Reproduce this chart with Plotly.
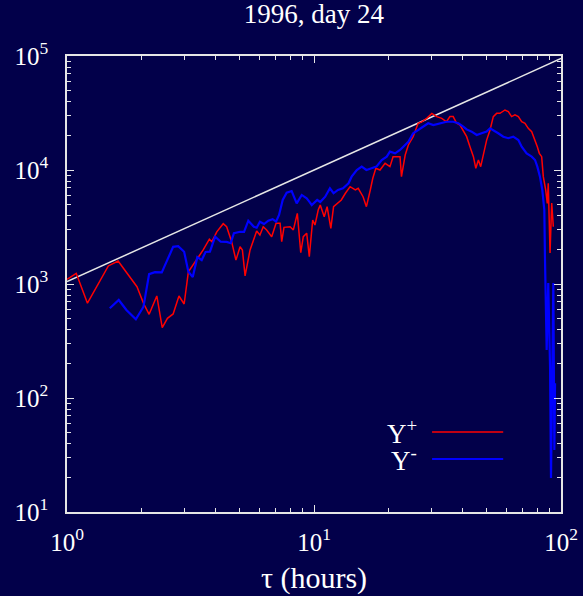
import plotly.graph_objects as go

# ---- data ----
tau_plus = [1.00, 1.09, 1.21, 1.47, 1.61, 1.77, 1.92, 2.04, 2.15, 2.31, 2.43, 2.55, 2.69, 2.84, 2.98,
            3.10, 3.35, 3.56, 3.77, 3.86, 4.04, 4.29, 4.43, 4.64, 4.83, 5.02, 5.13, 5.26, 5.51, 5.86,
            6.04, 6.23, 6.43, 6.74, 7.02, 7.29, 7.40, 7.56, 8.00, 8.25, 8.56, 8.84, 9.05, 9.34, 9.57,
            9.88, 10.09, 10.4, 10.6, 11.0, 11.3, 11.7, 12.0, 12.4, 12.9, 13.4, 14.0, 14.7, 15.1, 15.8,
            16.3, 16.9, 17.3, 17.8, 18.5, 19.4, 20.3, 20.9, 22.3, 22.6, 23.4, 24.1, 25.2, 26.4, 27.3,
            28.6, 30.0, 31.4, 32.9, 34.4, 35.5, 36.6, 37.8, 39.0, 40.2, 41.5, 42.8, 44.2, 45.2, 46.3,
            47.3, 48.5, 50.0, 51.6, 53.2, 54.9, 56.6, 59.3, 61.2, 63.1, 65.1, 67.2, 69.3, 71.5, 73.7,
            76.1, 78.5, 80.2, 81.7, 83.5, 84.8, 86.7, 88.0, 88.8, 90.3, 91.7, 93.1]
y_plus = [1100, 1240, 678, 1440, 1590, 1200, 947, 678, 542, 785, 414, 500, 546, 785, 668,
          1280, 1620, 1990, 2470, 2350, 2870, 3380, 3180, 2350, 1620, 2120, 1990, 1180, 1990, 2920,
          2690, 3180, 2980, 2600, 3410, 3410, 2350, 3140, 3180, 2980, 4170, 1880, 2600, 2790, 1740,
          3640, 3290, 4460, 4930, 3890, 4770, 3080, 4770, 5100, 5460, 6250, 7140, 6680, 6910, 5830,
          4770, 6680, 8460, 10350, 10000, 11450, 10700, 13090, 13090, 8740, 13540, 16570, 19600, 25700, 26400,
          28400, 31400, 29400, 28400, 26500, 29400, 29400, 25700, 24800, 22400, 19600, 16000, 13090, 10350, 12240,
          10700, 14000, 18300, 22400, 29400, 31400, 31400, 33600, 32500, 29400, 30400, 29400, 26500, 25700, 23200,
          21700, 18300, 16000, 14000, 13090, 8740, 6680, 5100, 7640, 1870, 5140, 3180]

tau_minus = [1.49, 1.62, 1.74, 1.90, 2.04, 2.15, 2.27, 2.42, 2.53, 2.69, 2.82, 2.98, 3.10, 3.23, 3.37,
             3.51, 3.64, 3.79, 3.98, 4.19, 4.43, 4.60, 4.74, 5.02, 5.21, 5.42, 5.71, 5.86, 6.04, 6.28,
             6.53, 6.80, 7.02, 7.22, 7.47, 7.75, 8.12, 8.51, 8.92, 9.34, 9.57, 9.79, 10.3, 10.6, 11.1,
             11.6, 12.0, 12.5, 13.1, 13.8, 14.2, 14.9, 15.6, 16.3, 17.1, 17.9, 18.8, 19.7, 20.3, 21.3,
             22.3, 23.4, 24.1, 25.2, 26.4, 27.7, 29.0, 30.4, 32.4, 34.4, 36.6, 38.4, 40.2, 41.5, 43.5,
             45.6, 47.7, 50.0, 51.6, 53.2, 55.7, 58.4, 61.2, 64.1, 67.2, 69.3, 72.6, 76.1, 78.5, 80.2,
             82.2, 84.0, 85.6, 86.1, 87.5, 88.8, 90.3, 91.1, 92.2, 93.1, 94.0, 94.6]
y_minus = [612, 724, 592, 490, 632, 1220, 1270, 1265, 1570, 2120, 2150, 1920, 1280, 1150, 1720,
           1620, 1910, 1920, 2600, 2350, 2340, 2280, 2790, 2870, 2870, 3590, 3180, 3120, 3520, 3360,
           3590, 3700, 3520, 4030, 5460, 6320, 6540, 5100, 6040, 5650, 5270, 4930, 5460, 5240, 5830,
           6910, 6250, 6680, 6910, 7640, 8740, 10000, 10700, 10000, 10350, 10700, 12240, 13090, 14480, 14000,
           14980, 16570, 17700, 21000, 22400, 24000, 25700, 24800, 25700, 26500, 26500, 25700, 24000, 22700, 21700,
           20300, 21000, 21700, 23200, 22400, 21000, 19600, 19000, 19600, 18300, 16000, 14000, 13090, 12240, 10700,
           8740, 6680, 4460, 1740, 264, 1020, 188, 19.9, 135, 1020, 35, 135]

ref_tau = [1, 100]
ref_y = [1050, 95000]

x_tickvals = [1, 10, 100]
x_ticktext = ["10<sup>0</sup>", "10<sup>1</sup>", "10<sup>2</sup>"]
y_tickvals = [10, 100, 1000, 10000, 100000]
y_ticktext = ["10<sup>1</sup>", "10<sup>2</sup>", "10<sup>3</sup>", "10<sup>4</sup>", "10<sup>5</sup>"]
x_minor = [m * d for d in (1, 10) for m in range(2, 10)]
y_minor = [m * d for d in (10, 100, 1000, 10000) for m in range(2, 10)]

BG = "#02004a"
FG = "#e6e6e6"
FONT = "Liberation Serif"

fig = go.Figure()
fig.add_trace(go.Scatter(x=ref_tau, y=ref_y, mode="lines", line=dict(color=FG, width=1.5),
                         showlegend=False, hoverinfo="skip"))
fig.add_trace(go.Scatter(x=tau_plus, y=y_plus, mode="lines", line=dict(color="#ff0000", width=1.5),
                         name="Y+", showlegend=False))
fig.add_trace(go.Scatter(x=tau_minus, y=y_minus, mode="lines", line=dict(color="#0000ff", width=2.2),
                         name="Y-", showlegend=False))

# legend (text on the left, line sample on the right)
for label, col, yp in [("Y<sup>+</sup>", "#ff0000", 0.1754), ("Y<sup>-</sup>", "#0000ff", 0.1162)]:
    fig.add_annotation(xref="paper", yref="paper", x=0.712, y=yp, text=label, showarrow=False,
                       xanchor="right", yanchor="middle", font=dict(family=FONT, size=27, color="white"))
    fig.add_shape(type="line", xref="paper", yref="paper", x0=0.739, x1=0.883, y0=yp, y1=yp,
                  line=dict(color=col, width=2 if col == "#0000ff" else 1.5))

axis_common = dict(type="log", showgrid=False, zeroline=False, showline=True, linecolor=FG, linewidth=1.5,
                   mirror="allticks", ticks="inside", ticklen=7, tickwidth=1.2, tickcolor=FG,
                   automargin=False, tickfont=dict(family=FONT, size=25, color="white"))

fig.update_xaxes(range=[0, 2], tickvals=x_tickvals, ticktext=x_ticktext, ticklabelstandoff=7,
                 minor=dict(tickvals=x_minor, ticks="inside", ticklen=4, tickcolor=FG, tickwidth=1, showgrid=False),
                 title=dict(text="τ (hours)", font=dict(family=FONT, size=30, color="white"), standoff=12),
                 **axis_common)
fig.update_yaxes(range=[1, 5], tickvals=y_tickvals, ticktext=y_ticktext, ticklabelstandoff=12,
                 minor=dict(tickvals=y_minor, ticks="inside", ticklen=4, tickcolor=FG, tickwidth=1, showgrid=False),
                 **axis_common)

fig.update_layout(
    width=583, height=596,
    paper_bgcolor=BG, plot_bgcolor=BG,
    margin=dict(l=67, r=22, t=56, b=84),
    title=dict(text="1996, day 24", x=0.5385, xanchor="center", y=0.978, yanchor="middle",
               font=dict(family=FONT, size=27, color="white")),
    showlegend=False,
)

fig.write_html("out.html")
